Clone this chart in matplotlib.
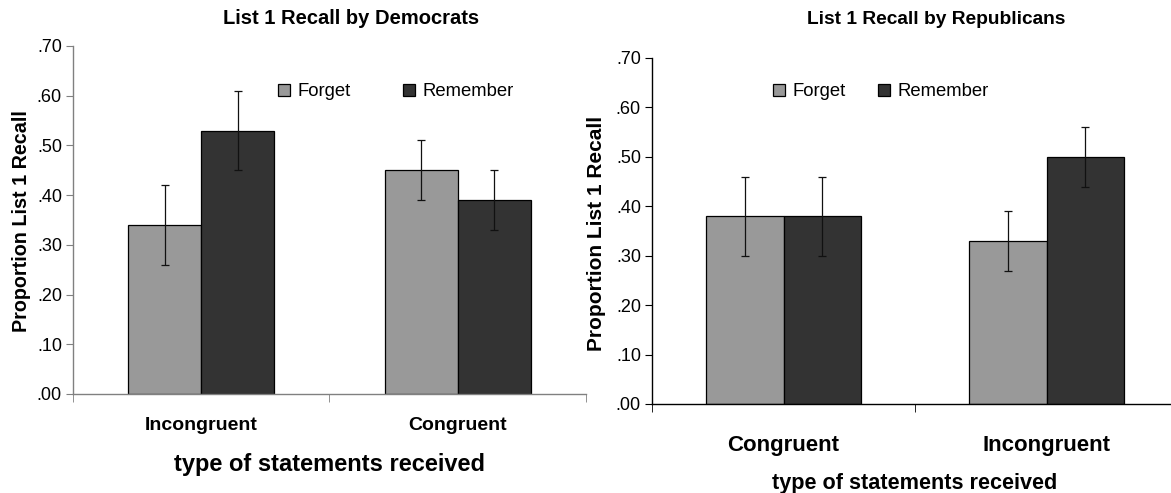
import numpy as np
import matplotlib
matplotlib.use("Agg")
import matplotlib.pyplot as plt

plt.rcParams["font.family"] = ["Liberation Sans", "DejaVu Sans"]

# data
series = ["Forget", "Remember"]
colors = ["#999999", "#333333"]

dem_groups = ["Incongruent", "Congruent"]
dem_forget = [0.34, 0.45]
dem_remember = [0.53, 0.39]
dem_forget_err = [0.08, 0.06]
dem_remember_err = [0.08, 0.06]

rep_groups = ["Congruent", "Incongruent"]
rep_forget = [0.38, 0.33]
rep_remember = [0.38, 0.50]
rep_forget_err = [0.08, 0.06]
rep_remember_err = [0.08, 0.06]

yticks = [0.0, 0.1, 0.2, 0.3, 0.4, 0.5, 0.6, 0.7]
ytick_labels = [".00", ".10", ".20", ".30", ".40", ".50", ".60", ".70"]

W, H = 1171, 493
fig = plt.figure(figsize=(W / 100, H / 100), dpi=100)


def px_axes(x0, x1, ytop, ybot):
    return fig.add_axes([x0 / W, (H - ybot) / H, (x1 - x0) / W, (ybot - ytop) / H])


def panel(ax, groups, forget, remember, ferr, rerr, bar_w, spine_col, title, title_xy,
          title_fs, leg_xy, colspace, ylab_xy, ylab_fs, xtick_pad, xtick_fs, xlab_xy,
          xlab_fs):
    x = np.arange(len(groups)) + 0.5
    vals = [forget, remember]
    errs = [ferr, rerr]
    for i in range(2):
        xi = x + (i - 0.5) * bar_w
        ax.bar(xi, vals[i], width=bar_w, color=colors[i], edgecolor="black",
               linewidth=0.9, label=series[i], zorder=2)
        ax.errorbar(xi, vals[i], yerr=errs[i], fmt="none", ecolor="#111111",
                    elinewidth=0.9, capsize=3, capthick=0.9, zorder=3)
    ax.set_xlim(0, len(groups))
    ax.set_ylim(0, 0.7)
    ax.set_yticks(yticks)
    ax.set_yticklabels(ytick_labels, fontsize=13)
    ax.set_xticks(x)
    ax.set_xticklabels(groups, fontsize=xtick_fs, fontweight="bold")
    ax.set_xticks(np.arange(len(groups) + 1), minor=True)
    ax.tick_params(axis="x", which="major", length=0, pad=xtick_pad)
    ax.tick_params(axis="x", which="minor", length=6, direction="out", color=spine_col)
    ax.tick_params(axis="y", length=5, direction="out", pad=3, color=spine_col)
    for s in ["top", "right"]:
        ax.spines[s].set_visible(False)
    for s in ["left", "bottom"]:
        ax.spines[s].set_color(spine_col)
        ax.spines[s].set_linewidth(1.0)

    ax.set_ylabel("Proportion List 1 Recall", fontsize=ylab_fs, fontweight="bold")
    ax.yaxis.set_label_coords(*ylab_xy)
    ax.yaxis.label.set_va("center")
    ax.set_xlabel("type of statements received", fontsize=xlab_fs, fontweight="bold")
    ax.xaxis.set_label_coords(*xlab_xy)
    ax.xaxis.label.set_va("center")

    fig.text(title_xy[0] / W, 1 - title_xy[1] / H, title, ha="center", va="center",
             fontsize=title_fs, fontweight="bold")

    ax.legend(loc="center left", bbox_to_anchor=leg_xy, ncol=2, frameon=False,
              fontsize=13.3, handlelength=0.65, handleheight=0.65, handletextpad=0.4,
              columnspacing=colspace, borderpad=0, borderaxespad=0)


# left panel: Democrats
ax1 = px_axes(73, 586, 46, 394)
panel(ax1, dem_groups, dem_forget, dem_remember, dem_forget_err, dem_remember_err,
      0.285, "#808080", "List 1 Recall by Democrats", (351, 18), 14.5,
      ((278 - 73) / 513, (394 - 92) / 348), 2.84,
      ((21 - 73) / 513, (394 - 221) / 348), 14.2,
      16.5, 14,
      ((330 - 73) / 513, (394 - 465) / 348), 17)

# right panel: Republicans
ax2 = px_axes(652, 1178, 58, 404)
panel(ax2, rep_groups, rep_forget, rep_remember, rep_forget_err, rep_remember_err,
      0.294, "black", "List 1 Recall by Republicans", (936, 20), 13.75,
      ((773 - 652) / 526, (404 - 92) / 346), 1.76,
      ((596 - 652) / 526, (404 - 233) / 346), 15,
      22, 16,
      ((915 - 652) / 526, (404 - 483) / 346), 15.6)

fig.savefig("out.png", dpi=100)
